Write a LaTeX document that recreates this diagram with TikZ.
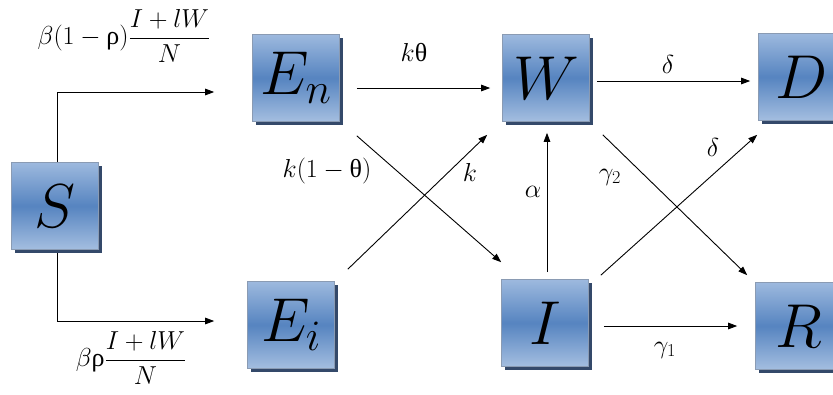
\RequirePackage{fix-cm}
\documentclass[tikz,border=0pt]{standalone}
\usepackage{fontspec}
\usepackage{amsmath}
\newfontfamily\grk{Liberation Serif}
\usetikzlibrary{arrows.meta,calc}
\definecolor{boxtop}{HTML}{9DB9DE}
\definecolor{boxmid}{HTML}{5684C0}
\definecolor{boxbot}{HTML}{A4BEE0}
\definecolor{boxline}{HTML}{8A9BB3}
\definecolor{boxshadow}{HTML}{34496A}
\newcommand{\urho}{\mbox{\grk ρ}}
\newcommand{\utheta}{\mbox{\grk θ}}
\begin{document}
\begin{tikzpicture}[x=1pt,y=-1pt,
  compbox/.style={draw=boxline, line width=0.6pt, minimum width=87pt, minimum height=87pt,
    inner sep=0pt, top color=boxtop, bottom color=boxbot, middle color=boxmid,
    font=\fontsize{62}{62}\selectfont},
  arr/.style={-{Triangle[length=9pt,width=6.5pt]}, line width=0.9pt, black},
  lab/.style={font=\fontsize{26}{29}\selectfont, inner sep=0pt}]
\clip (0,0) rectangle (833,394);
\fill[white] (0,0) rectangle (833,394);
% shadows
\foreach \cx/\cy in {55/206, 296/78, 546/78, 802/77, 291/325, 545/323, 799/326}
  \fill[boxshadow] (\cx-43.5+3,\cy-43.5+3) rectangle (\cx+43.5+3,\cy+43.5+3);
% boxes
\node[compbox] (S)  at (55,206)  {$S$};
\node[compbox] (En) at (296,78)  {$E_n$};
\node[compbox] (W)  at (546,78)  {$W$};
\node[compbox] (D)  at (802,77)  {$D$};
\node[compbox] (Ei) at (291,325) {$E_i$};
\node[compbox] (I)  at (545,323) {$I$};
\node[compbox] (R)  at (799,326) {$R$};
% connector start points
\coordinate (enw) at ($(En.east)+(17,10)$);
\coordinate (wd) at ($(W.east)+(7,3)$);
\coordinate (ir) at ($(I.east)+(15,3)$);
\coordinate (iw) at ($(I.north)+(2,-7)$);
% connectors
\draw[arr] ([xshift=2pt]S.north) |- ($(En.west)+(-38,14)$);
\draw[arr] ([xshift=2pt,yshift=-3pt]S.south) |- ($(Ei.west)+(-33,-4)$);
\draw[arr, shorten >=12pt] (enw) -- (enw -| W.west);
\draw[arr, shorten >=8pt] (wd) -- (wd -| D.west);
\draw[arr, shorten >=18pt] (ir) -- (ir -| R.west);
\draw[arr, shorten >=11pt] (iw) -- (iw |- W.south);
\draw[arr] ($(En.south east)+(17,14)$) -- ($(I.north west)+(0,-17)$);
\draw[arr] ($(Ei.north east)+(13,-12)$) -- ($(W.south west)+(-15,13)$);
\draw[arr] ($(W.south east)+(13,13)$) -- ($(R.north west)+(-8,-7)$);
\draw[arr] ($(I.north east)+(12,-4)$) -- ($(D.south west)+(-1,14)$);
% labels
\node[lab] (l1) at (124,36) {$\beta(1-\urho)\dfrac{I+lW}{N}$};
\node[lab] (l2) at (131,358) {$\beta\urho\dfrac{I+lW}{N}$};
\node[lab] (l3) at (414,53) {$k\utheta$};
\node[lab] (l4) at (327,171) {$k(1-\utheta)$};
\node[lab] (l5) at (470,172) {$k$};
\node[lab] (l6) at (533,192) {$\alpha$};
\node[lab] (l7) at (610,177) {$\gamma_2$};
\node[lab] (l8) at (668,64) {$\delta$};
\node[lab] (l9) at (713,147) {$\delta$};
\node[lab] (l10) at (665,350) {$\gamma_1$};
\end{tikzpicture}
\end{document}
